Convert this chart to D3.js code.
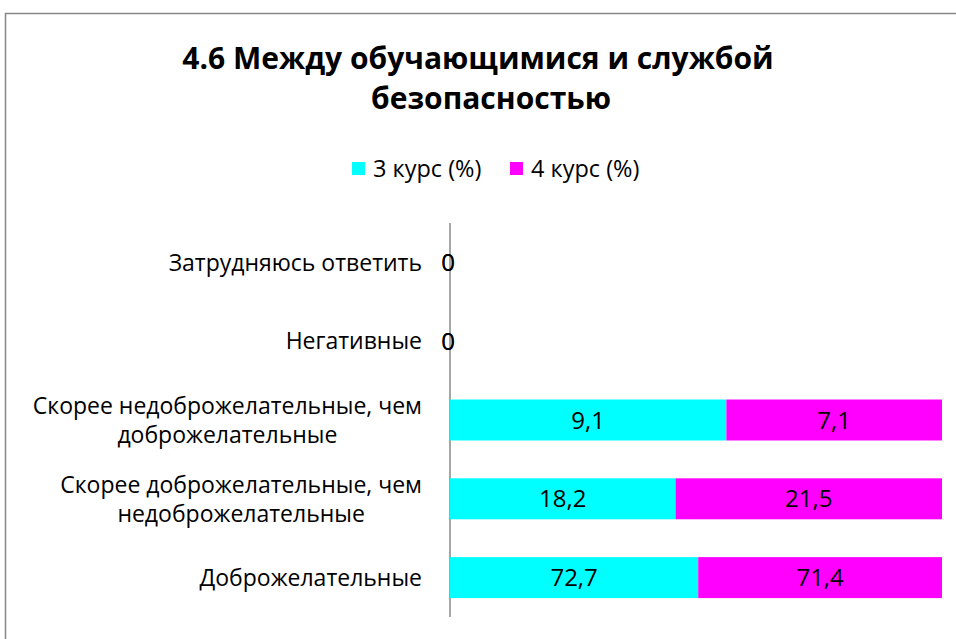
<!DOCTYPE html>
<html><head><meta charset="utf-8">
<script src="https://cdn.jsdelivr.net/npm/d3@7"></script>
<style>body{margin:0;background:#fff}svg{display:block}text{font-family:"Open Sans",sans-serif;fill:#000}</style>
</head><body>
<svg id="c" width="956" height="639"></svg>
<script>
const categories = ["Затрудняюсь ответить","Негативные","Скорее недоброжелательные, чем|доброжелательные","Скорее доброжелательные, чем|недоброжелательные","Доброжелательные"];
const series3 = [0, 0, 9.1, 18.2, 72.7];
const series4 = [0, 0, 7.1, 21.5, 71.4];
const seriesNames = ["3 курс (%)","4 курс (%)"];
const colors = ["#00FFFF","#FF00FF"];
const titleLines = ["4.6 Между обучающимися и службой","безопасностью"];

const svg = d3.select("#c");
svg.append("rect").attr("x",5.5).attr("y",13.5).attr("width",1000).attr("height",700)
  .attr("fill","#fff").attr("stroke","#888").attr("stroke-width",1.5);

svg.append("g").selectAll("text").data(titleLines).join("text")
  .attr("x",(d,i)=>i===0?478:491).attr("y",(d,i)=>69+i*40).attr("text-anchor","middle")
  .attr("font-size",30).attr("font-weight","bold").text(d=>d);

const y = d3.scaleBand().domain(categories).range([223,617]).paddingInner(0.48).paddingOuter(0.24);
const x = d3.scaleLinear().domain([0,1]).range([450,942]);

const rows = categories.map((c,i)=>{const t=series3[i]+series4[i];return {c, v:[series3[i],series4[i]], t};});
const stackData = rows.map(r=>({c:r.c, s0: r.t? r.v[0]/r.t:0, s1: r.t? r.v[1]/r.t:0, v:r.v}));
const stacked = d3.stack().keys(["s0","s1"])(stackData);

const g = svg.append("g");
stacked.forEach((layer,k)=>{
  g.selectAll(null).data(layer).join("rect")
    .attr("x",d=>x(d[0])).attr("width",d=>x(d[1])-x(d[0]))
    .attr("y",d=>y(d.data.c)).attr("height",y.bandwidth())
    .attr("fill",colors[k]);
});

// axis line
svg.append("line").attr("x1",450).attr("x2",450).attr("y1",223).attr("y2",617)
  .attr("stroke","#888").attr("stroke-width",1.5);

stacked.forEach((layer,k)=>{
  g.selectAll(null).data(layer).join("text")
    .attr("x",d=>(x(d[0])+x(d[1]))/2 - (d[1]===d[0]?2:0)).attr("y",d=>y(d.data.c)+y.bandwidth()/2)
    .attr("dy","0.36em").attr("text-anchor","middle").attr("font-size",24)
    .text(d=>String(d.data.v[k]).replace(".",","));
});
svg.node().appendChild(g.node());

// category labels
categories.forEach(c=>{
  const lines=c.split("|");
  const cy=y(c)+y.bandwidth()/2;
  const t=svg.append("text").attr("font-size",23).attr("text-anchor","middle");
  const ts=lines.map((l,i)=>t.append("tspan").text(l));
  const w=d3.max(ts,s=>s.node().getComputedTextLength());
  const cx=422-w/2;
  const lh=29;
  ts.forEach((s,i)=>s.attr("x",cx).attr("y",cy+(i-(lines.length-1)/2)*lh).attr("dy","0.36em"));
});

// legend
const lg=svg.append("g");
[352,510].forEach((lx,i)=>{
  lg.append("rect").attr("x",lx).attr("y",162).attr("width",13).attr("height",13).attr("fill",colors[i]);
  lg.append("text").attr("x",lx+21).attr("y",169).attr("dy","0.36em").attr("font-size",23.5).text(seriesNames[i]);
});
</script></body></html>
